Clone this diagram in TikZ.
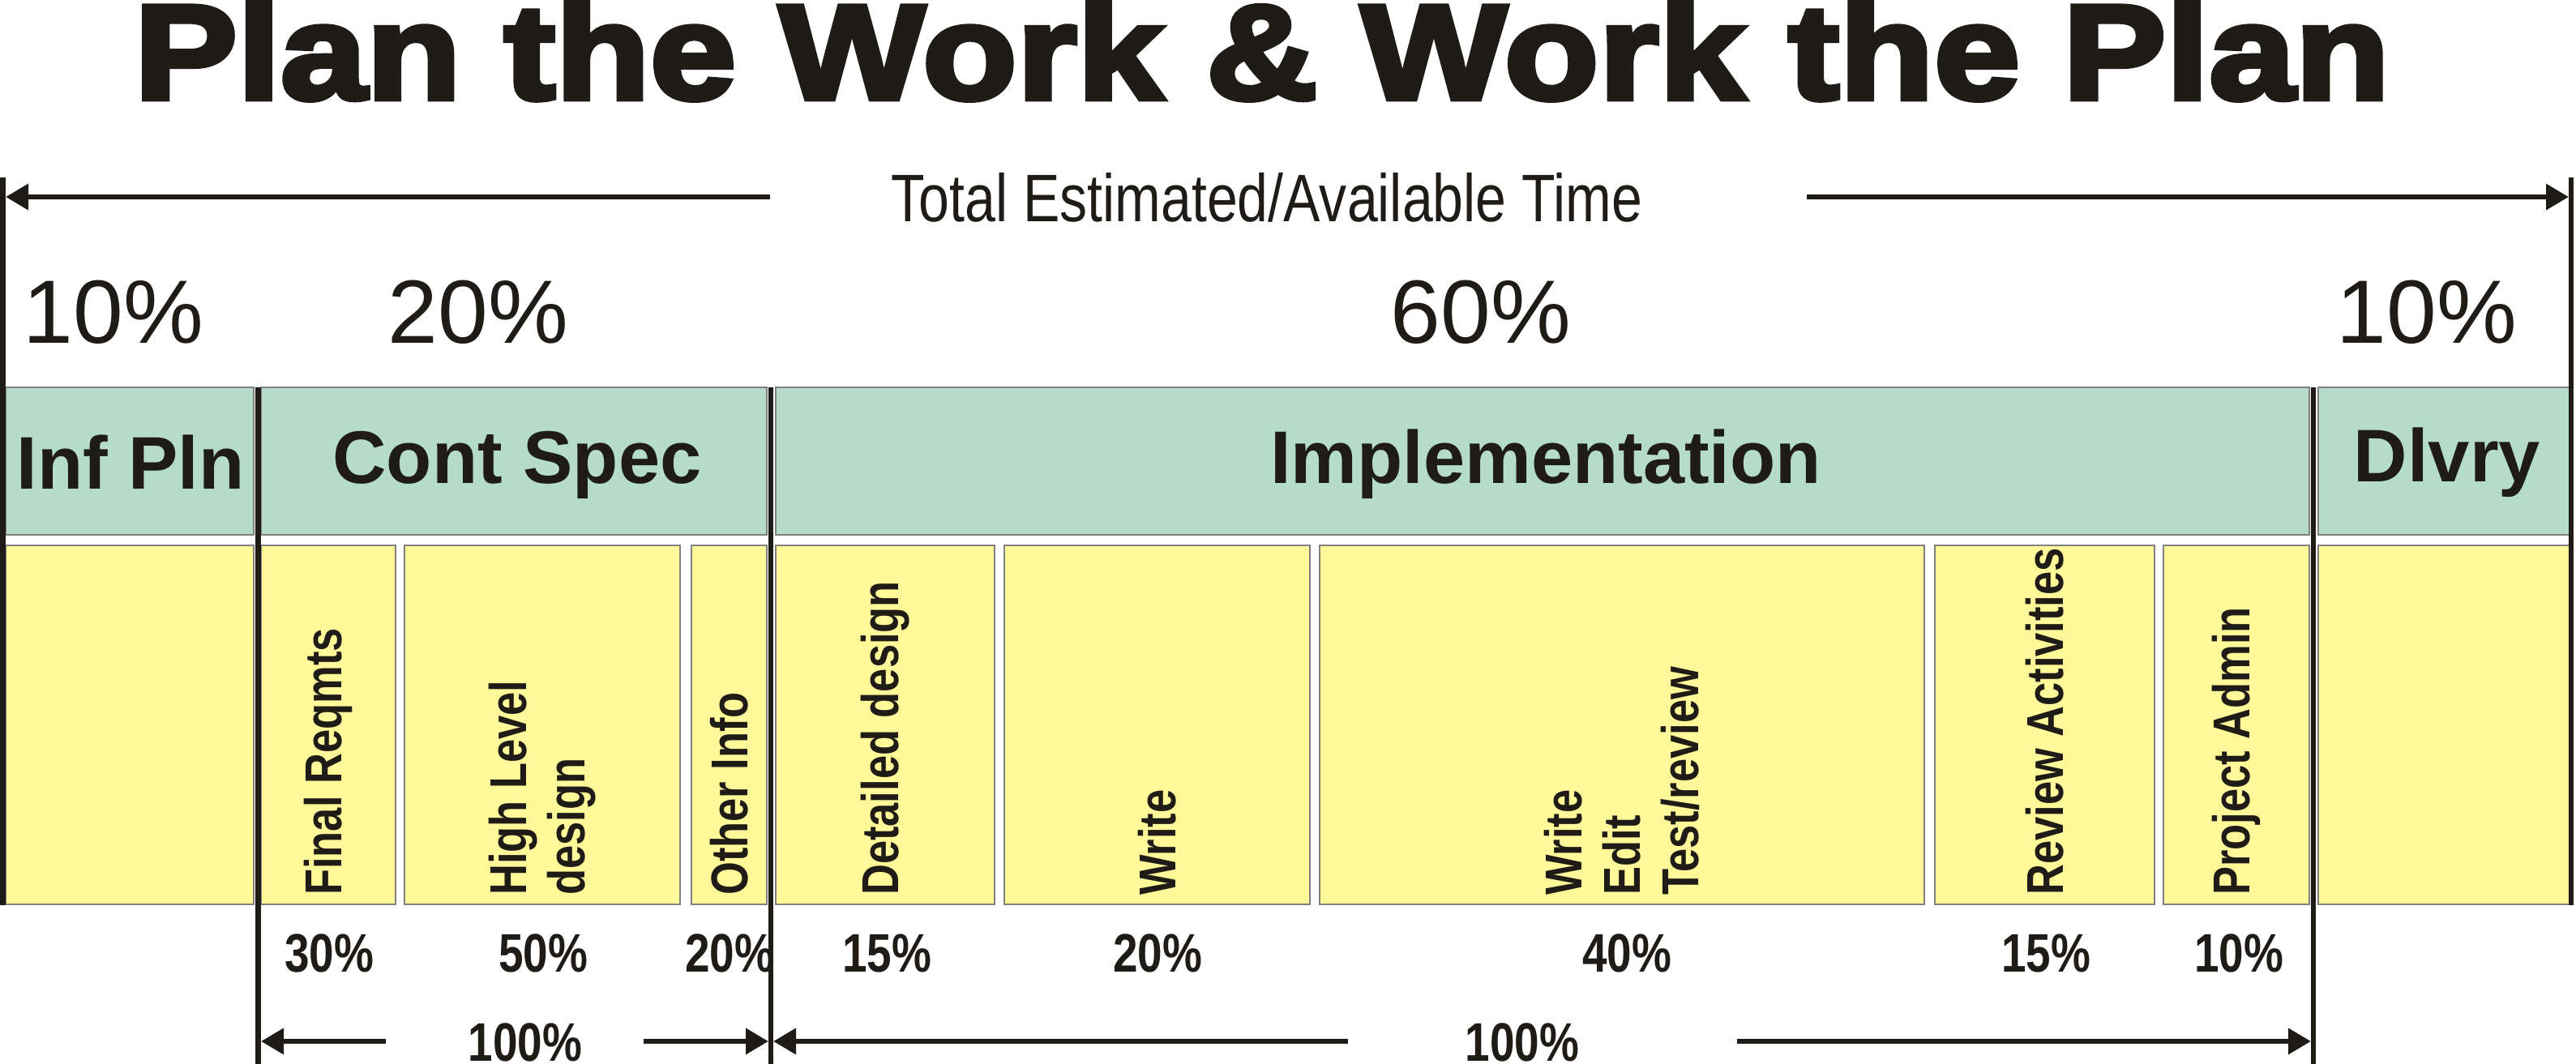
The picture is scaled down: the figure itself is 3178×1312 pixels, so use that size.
\documentclass[tikz,border=0pt]{standalone}
\usepackage{fontspec}
\setmainfont{Liberation Sans}
\newfontfamily\narrowfont{Liberation Sans}[FakeStretch=0.82]
\newfontfamily\titlefont{Liberation Sans}[FakeStretch=1.15,FakeBold=4]
\usetikzlibrary{arrows.meta}
\definecolor{tealfill}{RGB}{180,220,201}
\definecolor{yelfill}{RGB}{255,249,154}
\definecolor{ink}{RGB}{31,27,22}
\definecolor{edgegray}{RGB}{128,128,128}
\begin{document}
\begin{tikzpicture}[x=1pt,y=-1pt,
  hdr/.style={draw=edgegray, line width=1.5pt, fill=tealfill, inner sep=0pt, minimum height=182pt},
  act/.style={draw=edgegray, line width=1.5pt, fill=yelfill, inner sep=0pt, minimum height=443pt},
  rule/.style={draw=ink, line width=6.5pt},
  arr/.style={draw=ink, line width=6.5pt, -{Triangle[length=28pt,width=31pt]}},
  titletxt/.style={text=ink, inner sep=0pt, anchor=base, font=\titlefont\bfseries\fontsize{166}{170}\selectfont},
  toptxt/.style={text=ink, inner sep=0pt, anchor=base, font=\narrowfont\fontsize{83}{90}\selectfont},
  bigpct/.style={text=ink, inner sep=0pt, anchor=base, font=\fontsize{111}{120}\selectfont},
  hdrtxt/.style={text=ink, inner sep=0pt, anchor=base, font=\bfseries\fontsize{92}{100}\selectfont},
  pct/.style={text=ink, inner sep=0pt, anchor=base, font=\narrowfont\bfseries\fontsize{67}{72}\selectfont},
  vlab/.style={text=ink, inner sep=0pt, rotate=90, anchor=west, align=left, font=\narrowfont\bfseries\fontsize{64}{72}\selectfont}
]
\useasboundingbox (0,0) rectangle (3178,1312);

% title
\node[titletxt] (title) at (1557,122) {Plan the Work \& Work the Plan};

% header boxes
\node[hdr, minimum width=306pt] (hInf) at (160,569) {};
\node[hdr, minimum width=624pt] (hCont) at (634,569) {};
\node[hdr, minimum width=1892pt] (hImpl) at (1903,569) {};
\node[hdr, minimum width=312pt] (hDlv) at (3016,569) {};

% activity boxes
\node[act, minimum width=306pt] (yInf) at (160,894.5) {};
\node[act, minimum width=166pt] (yFR) at (405,894.5) {};
\node[act, minimum width=340pt] (yHL) at (669,894.5) {};
\node[act, minimum width=93pt] (yOI) at (899.5,894.5) {};
\node[act, minimum width=270pt] (yDD) at (1092,894.5) {};
\node[act, minimum width=377pt] (yWR) at (1427.5,894.5) {};
\node[act, minimum width=746pt] (yWET) at (2001,894.5) {};
\node[act, minimum width=271pt] (yRA) at (2522.5,894.5) {};
\node[act, minimum width=180pt] (yPA) at (2759,894.5) {};
\node[act, minimum width=312pt] (yDlv) at (3016,894.5) {};

% vertical rules
\coordinate (oL1) at (3.5,219); \coordinate (oL2) at (3.5,1117);
\coordinate (oR1) at (3172,219); \coordinate (oR2) at (3172,1117);
\coordinate (d1a) at (318.5,478); \coordinate (d1b) at (318.5,1330);
\coordinate (d2a) at (951,478); \coordinate (d2b) at (951,1330);
\coordinate (d3a) at (2854,478); \coordinate (d3b) at (2854,1330);
\draw[rule] (oL1) -- (oL2);
\draw[rule] (oR1) -- (oR2);
\draw[rule] (d1a) -- (d1b);
\draw[rule] (d2a) -- (d2b);
\draw[rule] (d3a) -- (d3b);

% total time arrow
\node[toptxt] (total) at (1563,273) {Total Estimated/Available Time};
\coordinate (tLs) at (950,243); \coordinate (tLe) at (7,243);
\coordinate (tRs) at (2229,243); \coordinate (tRe) at (3169,243);
\draw[arr] (tLs) -- (tLe);
\draw[arr] (tRs) -- (tRe);

% phase percentages
\node[bigpct] (p1) at (140,423) {10\%};
\node[bigpct] (p2) at (590,423) {20\%};
\node[bigpct] (p3) at (1827,423) {60\%};
\node[bigpct] (p4) at (2994,423) {10\%};

% header labels
\node[hdrtxt] (lInf) at (161,603) {Inf Pln};
\node[hdrtxt] (lCont) at (638,596) {Cont Spec};
\node[hdrtxt] (lImpl) at (1907,596) {Implementation};
\node[hdrtxt] (lDlv) at (3019,594) {Dlvry};

% vertical activity labels
\node[vlab] (vFR) at (405,1105) {Final Reqmts};
\node[vlab] (vHL) at (669,1105) {High Level\\design};
\node[vlab] (vOI) at (899.5,1105) {Other Info};
\node[vlab] (vDD) at (1092,1105) {Detailed design};
\node[vlab] (vWR) at (1427.5,1105) {Write};
\node[vlab] (vWET) at (2001,1105) {Write\\Edit\\Test/review};
\node[vlab] (vRA) at (2522.5,1105) {Review Activities};
\node[vlab] (vPA) at (2759,1105) {Project Admin};

% activity percentages
\node[pct] (q1) at (406,1199) {30\%};
\node[pct] (q2) at (670,1199) {50\%};
\node[pct] (q3) at (900,1199) {20\%};
\node[pct] (q4) at (1094,1199) {15\%};
\node[pct] (q5) at (1428,1199) {20\%};
\node[pct] (q6) at (2007,1199) {40\%};
\node[pct] (q7) at (2524,1199) {15\%};
\node[pct] (q8) at (2762,1199) {10\%};

% 100% arrows
\node[pct] (c100) at (648,1309) {100\%};
\node[pct] (i100) at (1878,1309) {100\%};
\coordinate (cLs) at (476,1285); \coordinate (cLe) at (322,1285);
\coordinate (cRs) at (794,1285); \coordinate (cRe) at (948,1285);
\coordinate (iLs) at (1663,1285); \coordinate (iLe) at (954,1285);
\coordinate (iRs) at (2143,1285); \coordinate (iRe) at (2851,1285);
\draw[arr] (cLs) -- (cLe);
\draw[arr] (cRs) -- (cRe);
\draw[arr] (iLs) -- (iLe);
\draw[arr] (iRs) -- (iRe);
\end{tikzpicture}
\end{document}
